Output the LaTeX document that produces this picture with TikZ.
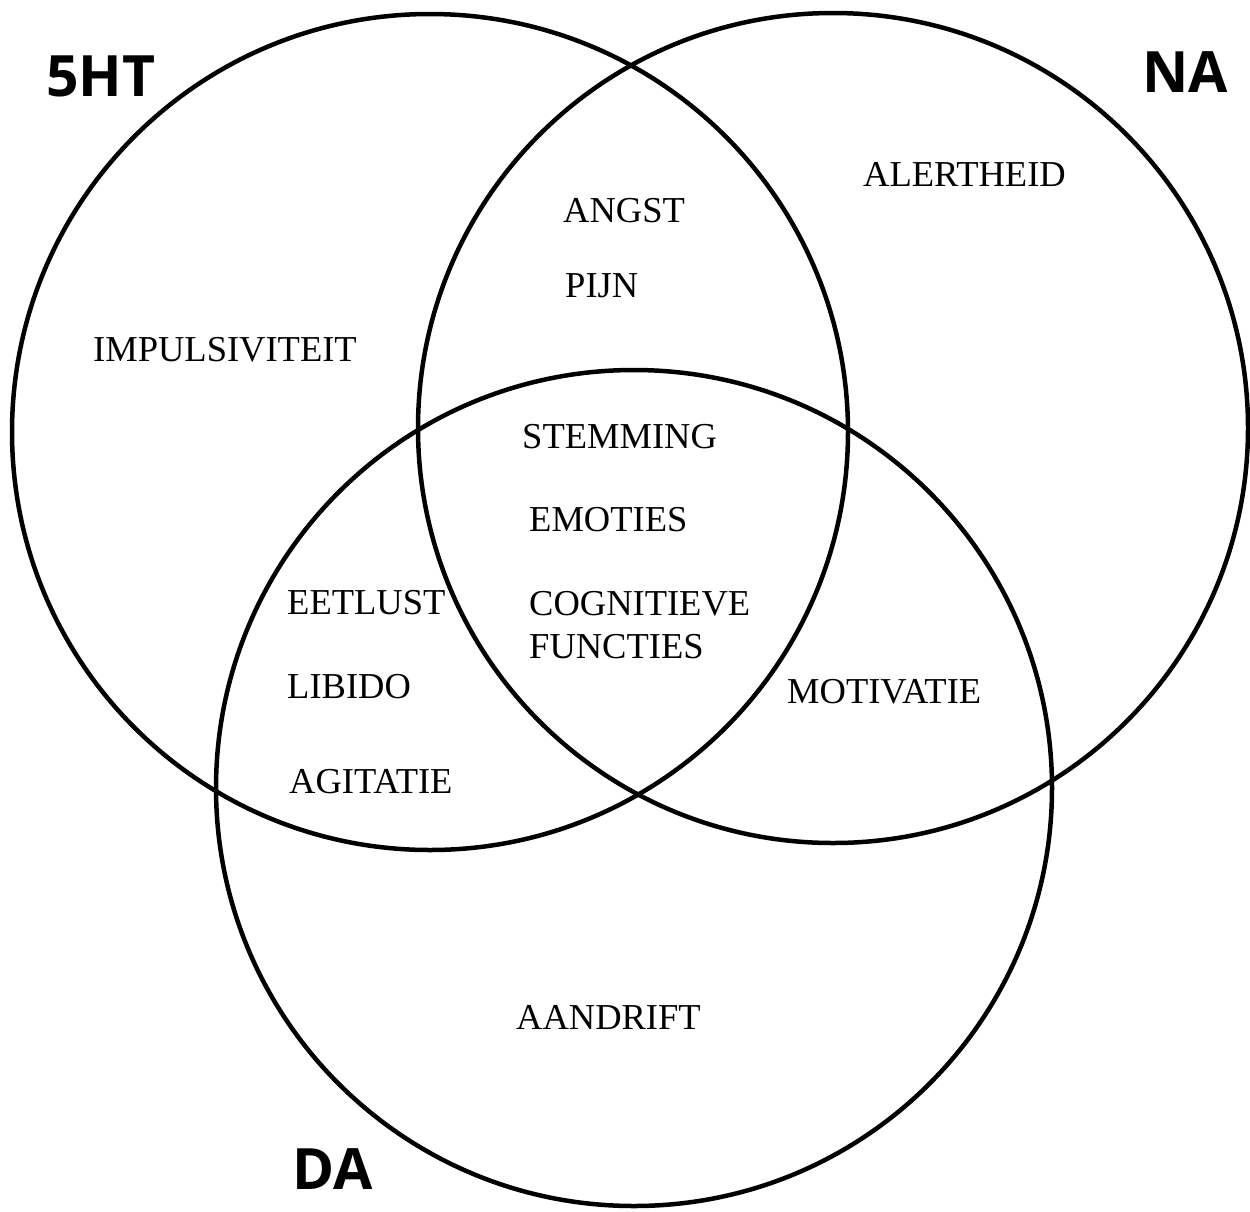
\documentclass[tikz,border=0pt]{standalone}
\usepackage{fontspec}
\setmainfont{Liberation Serif}
\newfontfamily\labelfont{Open Sans}

\tikzset{
	term/.style={anchor=west, inner sep=0pt, font=\fontsize{36.5}{40}\selectfont},
	setname/.style={inner sep=0pt, font=\labelfont\bfseries\fontsize{57}{60}\selectfont},
	setcircle/.style={line width=4.5pt}
}

\begin{document}
\begin{tikzpicture}[x=1pt, y=-1pt]
	\useasboundingbox (0, 0) rectangle (1250, 1211);

	\coordinate (c5ht) at (430, 432);
	\coordinate (cna) at (833, 428);
	\coordinate (cda) at (634, 788);

	\draw[setcircle] (c5ht) circle (418);
	\draw[setcircle] (cna) circle (415);
	\draw[setcircle] (cda) circle (418);

	\node[setname] (l5ht) at (101, 76) {5HT};
	\node[setname] (lna) at (1185, 72) {NA};
	\node[setname] (lda) at (333, 1169) {DA};

	\node[term] (alert) at (863, 174) {ALERTHEID};
	\node[term] (angst) at (563, 211) {ANGST};
	\node[term] (pijn) at (565, 286) {PIJN};
	\node[term] (impuls) at (93, 350) {IMPULSIVITEIT};
	\node[term] (stem) at (522, 437) {STEMMING};
	\node[term] (emo) at (529, 520) {EMOTIES};
	\node[term] (cogn) at (529, 604) {COGNITIEVE};
	\node[term] (funct) at (529, 647) {FUNCTIES};
	\node[term] (eet) at (287, 603) {EETLUST};
	\node[term] (libido) at (287, 687) {LIBIDO};
	\node[term] (agit) at (289, 782) {AGITATIE};
	\node[term] (motiv) at (787, 692) {MOTIVATIE};
	\node[term] (aandr) at (516, 1017) {AANDRIFT};

\end{tikzpicture}
\end{document}
